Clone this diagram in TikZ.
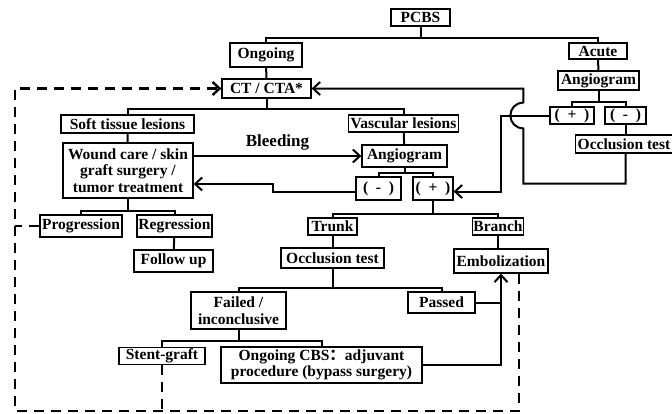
\documentclass[tikz,border=0pt]{standalone}
\usepackage{fontspec}
\setmainfont{Liberation Serif}
\newfontfamily\cjk{Noto Sans CJK SC}
\usetikzlibrary{calc}
\usetikzlibrary{arrows.meta}
\tikzset{%
  block/.style = {draw, line width=1.3pt, rectangle, inner sep=1pt, align=center,
    font=\bfseries\fontsize{15.5}{16.5}\selectfont},
  conn/.style  = {line width=2pt}, % tree lines
  ret/.style   = {line width=2.4pt, dash pattern=on 10pt off 7pt}, % dashed return
  arr/.style   = {-{Straight Barb[length=7pt, width=13pt]}}
}
\begin{document}
\begin{tikzpicture}[x=1pt, y=-1pt]
    \path[use as bounding box, fill=white] (0,0) rectangle (672,413);

    %pcbs
    \node[block, minimum width=59pt, minimum height=17pt] (pcbs) at (420.5,17.5) {PCBS};
    \node[block, minimum width=72pt, minimum height=24pt] (ongoing) at (266,55) {Ongoing};
    \node[block, minimum width=58pt, minimum height=16pt] (acute) at (598,51) {Acute};
    \draw[conn] (pcbs.south) -- ++(0,11) coordinate (jp);
    \draw[conn] (ongoing.north) |- (jp) -| (acute.north);

    %ct
    \node[block, minimum width=89pt, minimum height=19pt] (ct) at (266.5,88.5) {CT / CTA*};
    \draw[conn] (ongoing) -- (ct);
    \node[block, minimum width=133pt, minimum height=18pt] (soft) at (127.5,124) {Soft tissue lesions};
    \node[block, minimum width=110pt, minimum height=17pt] (vasc) at (403.5,123.5) {Vascular lesions};
    \draw[conn] (ct.south) -- ++(0,10) coordinate (jc);
    \draw[conn] (soft.north) |- (jc) -| (vasc.north);

    %soft tissue
    \node[block, minimum width=130pt, minimum height=55pt] (wound) at (128,170.5) {Wound care / skin\\graft surgery /\\tumor treatment};
    \draw[conn] (soft) -- (wound);
    \node[block, minimum width=82pt, minimum height=22pt] (prog) at (81,226) {Progression};
    \node[block, minimum width=75pt, minimum height=22pt] (regr) at (174.5,226) {Regression};
    \node[block, minimum width=79pt, minimum height=22pt] (follow) at (173.5,261) {Follow up};
    \draw[conn] (wound.south) -- ++(0,12) coordinate (jw);
    \draw[conn] (prog.north) |- (jw) -| (regr.north);
    \draw[conn] (regr) -- (follow);

    %vascular
    \node[block, minimum width=85pt, minimum height=22pt] (angio) at (404.5,156) {Angiogram};
    \draw[conn] (vasc) -- (angio);
    \draw[conn, arr] (wound.east |- angio.west) -- (angio.west)
        node[midway, above=1pt, font=\bfseries\fontsize{17}{18}\selectfont] (bleed) {Bleeding};
    \node[block, minimum width=45pt, minimum height=23pt] (negv) at (378.5,188.5) {(\enspace-\enspace)};
    \node[block, minimum width=40pt, minimum height=23pt] (posv) at (433,188.5) {(\enspace+\enspace)};
    \draw[conn] (angio.south) -- ++(0,5) coordinate (ja);
    \draw[conn] (negv.north) |- (ja) -| (posv.north);
    \draw[conn, arr] ($(negv.west)+(0,3)$) -- ++(-82,0) |- ($(wound.east)+(0,13.5)$);

    %trunk / branch
    \node[block, minimum width=49pt, minimum height=17pt] (trunk) at (332.5,226.5) {Trunk};
    \node[block, minimum width=51pt, minimum height=17pt] (branch) at (498,226.5) {Branch};
    \draw[conn] (posv.south) -- ++(0,13) coordinate (jv);
    \draw[conn] (trunk.north) |- (jv) -| (branch.north);
    \node[block, minimum width=103pt, minimum height=20pt] (occt) at (332.5,258) {Occlusion test};
    \node[block, minimum width=94pt, minimum height=24pt] (emb) at (501,261) {Embolization};
    \draw[conn] (trunk) -- (occt);
    \draw[conn] (branch.south) -- (branch.south |- emb.north);

    %occlusion test
    \node[block, minimum width=95pt, minimum height=37pt] (failed) at (238.5,310.5) {Failed /\\inconclusive};
    \node[block, minimum width=67pt, minimum height=21pt] (passed) at (441.5,302.5) {Passed};
    \draw[conn] (occt.south) -- ++(0,19) coordinate (jo);
    \draw[conn] (failed.north) |- (jo) -| (passed.north);
    \node[block, minimum width=86pt, minimum height=16pt] (stent) at (162,356) {Stent-graft};
    \node[block, minimum width=201pt, minimum height=36pt] (cbs) at (321.5,365) {Ongoing CBS{\cjk ：}adjuvant\\procedure (bypass surgery)};
    \draw[conn] (failed.south) -- ++(0,11) coordinate (jf);
    \draw[conn] (stent.north) |- (jf) -| (cbs.north);
    \draw[conn, arr] (cbs.east) -| (emb.south);
    \draw[conn] (passed.east) -- (passed.east -| emb.south);

    %acute
    \node[block, minimum width=81pt, minimum height=19pt] (angioa) at (598.5,80.5) {Angiogram};
    \draw[conn] (acute) -- (angioa);
    \node[block, minimum width=44pt, minimum height=17pt] (posa) at (572,115.5) {(\enspace+\enspace)};
    \node[block, minimum width=41pt, minimum height=17pt] (nega) at (625.5,115.5) {(\enspace-\enspace)};
    \draw[conn] (angioa.south) -- ++(0,11) coordinate (jaa);
    \draw[conn] (posa.north) |- (jaa) -| (nega.north);
    \node[block, minimum width=97pt, minimum height=18pt] (occa) at (624,144) {Occlusion test};
    \draw[conn] (nega.south) -- (nega.south |- occa.north);

    %back to ct, hop over the (+) line
    \coordinate (hop) at ($(posa.west)+(-26,0)$);
    \draw[conn, arr] (nega.south |- occa.south) |- ($(hop)+(0,68)$) -- ($(hop)+(0,13)$)
        arc[start angle=-90, end angle=-270, radius=13pt] |- (ct.east);
    \draw[conn, arr] (posa.west) -- ++(-48,0) |- ($(posv.east)+(0,3)$);

    %dashed return
    \coordinate (rc) at (15,411);
    \draw[ret, arr] ($(emb.south)+(18,0)$) |- (rc) |- (ct.west);
    \draw[ret] (stent.south) -- (stent.south |- rc);
    \draw[ret] (prog.west) -- (prog.west -| rc);
\end{tikzpicture}
\end{document}
